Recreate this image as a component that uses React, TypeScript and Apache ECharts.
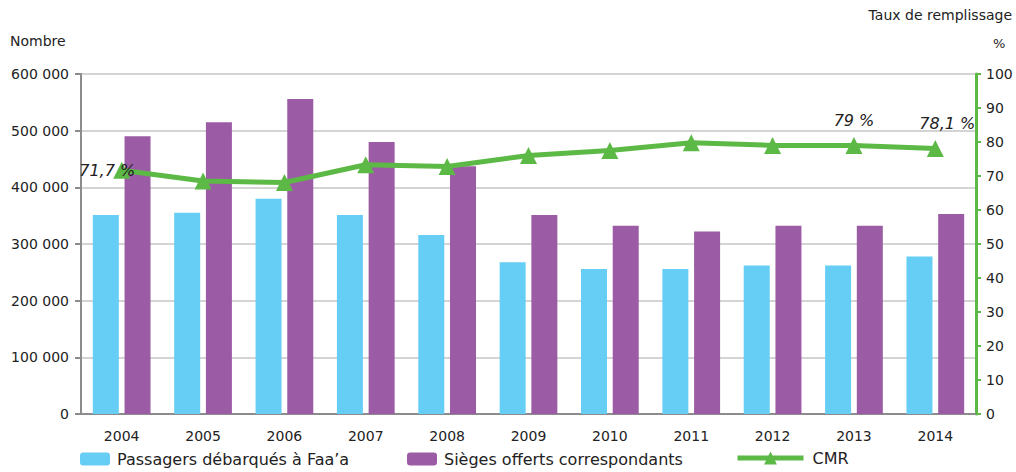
import React, { useEffect, useRef } from "react";
import * as echarts from "echarts";

const years = ["2004", "2005", "2006", "2007", "2008", "2009", "2010", "2011", "2012", "2013", "2014"];
const passagers = [351000, 355000, 380000, 351000, 316000, 268000, 256000, 256000, 262000, 262000, 278000];
const sieges = [490000, 515000, 556000, 480000, 437000, 351000, 332000, 322000, 332000, 332000, 353000];
const cmr = [71.7, 68.5, 68.1, 73.3, 72.8, 76.0, 77.5, 79.8, 79.0, 79.0, 78.1];
const cmrLabels = ["71,7 %", "", "", "", "", "", "", "", "", "79 %", "78,1 %"];

const FONT = "DejaVu Sans";
const TXT = "#222";

export default function App() {
  const ref = useRef<HTMLDivElement>(null);
  useEffect(() => {
    const chart = echarts.init(ref.current!, null, { renderer: "svg" });
    const fmt = (v: number) => (v === 0 ? "0" : String(v).replace(/\B(?=(\d{3})+(?!\d))/g, " "));
    const cmrData = cmr.map((v, i) => {
      if (i === 0) {
        return { value: v, label: { position: "left", distance: -22 } };
      }
      if (i === cmr.length - 1) {
        return { value: v, label: { offset: [12, 0] } };
      }
      return { value: v };
    });
    chart.setOption({
      animation: false,
      textStyle: { fontFamily: FONT },
      grid: { left: 81, right: 40, top: 74, bottom: 58 },
      legend: [
        {
          data: ["Passagers débarqués à Faa’a"],
          left: 80, top: 451, itemWidth: 30, itemHeight: 13, itemGap: 8,
          textStyle: { fontFamily: FONT, fontSize: 16, color: TXT, padding: [0, 0, 0, 2] },
          padding: 0,
        },
        {
          data: ["Sièges offerts correspondants"],
          left: 407, top: 451, itemWidth: 30, itemHeight: 13,
          textStyle: { fontFamily: FONT, fontSize: 16, color: TXT, padding: [0, 0, 0, 2] },
          padding: 0,
        },
        {
          data: ["CMR"],
          left: 735, top: 450, itemWidth: 66, itemHeight: 16,
          lineStyle: { width: 5 },
          textStyle: { fontFamily: FONT, fontSize: 16, color: TXT, padding: [0, 0, 0, 4] },
          padding: 0,
        },
      ],
      xAxis: {
        type: "category",
        data: years,
        axisLine: { lineStyle: { color: "#8c8c8c", width: 2 } },
        axisTick: { show: false },
        axisLabel: { color: TXT, fontSize: 14, margin: 15, fontFamily: FONT },
      },
      yAxis: [
        {
          type: "value",
          min: 0, max: 600000, interval: 100000,
          name: "Nombre",
          nameLocation: "end",
          nameGap: 26,
          nameTextStyle: { color: TXT, fontSize: 14, align: "left", padding: [0, 0, 0, -71], fontFamily: FONT },
          axisLine: { show: true, lineStyle: { color: "#8c8c8c", width: 2 } },
          axisTick: { show: true, length: 6, lineStyle: { color: "#8c8c8c", width: 2 } },
          axisLabel: { color: TXT, fontSize: 14, margin: 12, formatter: fmt, fontFamily: FONT },
          splitLine: { lineStyle: { color: "#d4d4d4", width: 2 } },
        },
        {
          type: "value",
          min: 0, max: 100, interval: 10,
          position: "right",
          axisLine: { show: true, lineStyle: { color: "#5db946", width: 3 } },
          axisTick: { show: true, length: 5, lineStyle: { color: "#5db946", width: 2 } },
          axisLabel: { color: TXT, fontSize: 14, margin: 10, fontFamily: FONT },
          splitLine: { show: false },
        },
      ],
      series: [
        {
          name: "Passagers débarqués à Faa’a",
          type: "bar",
          data: passagers,
          barWidth: 26,
          barGap: "22%",
          itemStyle: { color: "#66cef5" },
        },
        {
          name: "Sièges offerts correspondants",
          type: "bar",
          data: sieges,
          barWidth: 26,
          itemStyle: { color: "#9b5ba5" },
        },
        {
          name: "CMR",
          type: "line",
          yAxisIndex: 1,
          data: cmrData,
          symbol: "triangle",
          symbolSize: 17,
          lineStyle: { color: "#5db946", width: 5 },
          itemStyle: { color: "#5db946" },
          label: {
            show: true,
            position: "top",
            distance: 8,
            formatter: (p: any) => cmrLabels[p.dataIndex],
            fontStyle: "italic",
            fontSize: 16,
            color: TXT,
            fontFamily: FONT,
          },
          z: 5,
        },
      ],
      graphic: [
        {
          type: "text",
          right: 4,
          top: 8,
          style: { text: "Taux de remplissage", fontSize: 14, fill: TXT, fontFamily: FONT },
        },
        {
          type: "text",
          left: 993,
          top: 37,
          style: { text: "%", fontSize: 13, fill: TXT, fontFamily: FONT },
        },
      ],
    });
    return () => chart.dispose();
  }, []);
  return <div ref={ref} style={{ width: 1016, height: 472, position: "absolute", left: 0, top: 0 }} />;
}
